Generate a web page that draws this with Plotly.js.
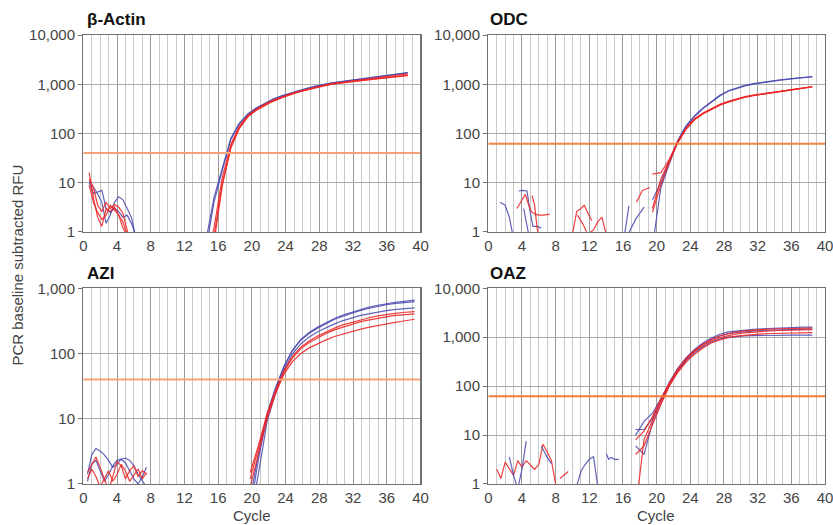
<!DOCTYPE html>
<html>
<head>
<meta charset="utf-8">
<script src="https://cdn.plot.ly/plotly-3.0.1.min.js"></script>
<style>html,body{margin:0;padding:0;background:#fff;}#chart{width:833px;height:525px;}</style>
</head>
<body>
<div id="chart"></div>
<script>
// ---------- shared ticks ----------
const xTickVals = [0,4,8,12,16,20,24,28,32,36,40];
const xTickText = ["0","4","8","12","16","20","24","28","32","36","40"];
const yTickVals = [1,10,100,1000,10000];
const yTickText = ["1","10","100","1,000","10,000"];
const panelTitles = ["β-Actin","ODC","AZI","OAZ"];
const thresholds = [40, 62, 40, 62];
const thresholdX = [0, 40];

// ---------- β-Actin ----------
const cycA = [14.5,15.5,16.5,17.5,18.5,19.5,20.5,21.5,22.5,23.5,24.5,25.5,26.5,27.5,28.5,29.5,30.5,31.5,32.5,33.5,34.5,35.5,36.5,37.5,38.5];
const A_blue1 = [0.4,4,18,75,155,240,320,400,490,570,650,730,810,900,980,1060,1120,1180,1240,1300,1370,1440,1510,1600,1700];
const A_blue2 = [0.6,5,20,80,160,250,330,410,500,580,660,740,830,920,1000,1070,1130,1190,1250,1310,1380,1450,1530,1620,1720];
const A_red1 = [0.1,0.8,10,55,130,220,300,380,460,540,620,700,780,860,940,1010,1070,1120,1180,1230,1290,1350,1410,1470,1530];
const A_red2 = [0.1,0.6,9,50,125,215,295,370,450,530,610,690,770,850,930,1000,1060,1110,1170,1220,1280,1330,1390,1440,1500];
const A_red3 = [0.2,1.2,13,60,140,230,310,390,470,550,630,710,790,870,950,1030,1090,1150,1210,1270,1330,1400,1470,1540,1620];
const nA_x = [0.7,1.2,1.7,2.2,2.7,3.2,3.7,4.2,4.7,5.2,5.7,6.2];
const nA_b1 = [11,8,6,4,1.5,2.2,4,5.2,4.5,3,2,0.8];
const nA_b2 = [10,6,6.5,7,3,2.5,3,2.6,2,2.2,1.5,0.9];
const nA_r1 = [16,5,2,1.3,3,2.6,3.2,2.2,1.2,0.8,0.6,0.5];
const nA_r2 = [12,8,3.5,2.6,4,3,3.6,3.2,2.4,1,0.5,0.4];
const nA_r3 = [9,4,2.5,1.8,2.2,3.5,2.8,2.2,1.6,0.9,0.5,0.4];

// ---------- ODC ----------
const cycB = [19.5,20.5,21.5,22.5,23.5,24.5,25.5,26.5,27.5,28.5,29.5,30.5,31.5,32.5,33.5,34.5,35.5,36.5,37.5,38.5];
const B_blue1 = [0.5,8,24,70,140,220,320,430,580,720,830,930,1010,1080,1140,1200,1260,1320,1370,1420];
const B_blue2 = [4.5,10,28,72,145,230,330,450,600,740,850,950,1030,1100,1160,1220,1280,1330,1380,1430];
const B_red1 = [3,12,28,68,130,200,260,320,390,450,510,560,600,640,680,720,760,800,850,900];
const B_red2 = [15,16,30,66,126,195,255,315,380,440,500,550,595,635,675,715,755,795,840,890];
const B_red3 = [2.5,9,26,64,122,190,250,310,375,435,495,545,590,630,670,710,750,790,835,880];
const nB_xb0 = [16.6,17.5,18.5];
const nB_b0 = [0.9,1.8,3.2];
const nB_xb1 = [1.4,2,2.5,2.8,3.1];
const nB_b1 = [4,3.5,2,1.1,0.6];
const nB_xb2 = [3.6,4.1,4.6,4.9,5.3,5.8,6.3];
const nB_b2 = [6.8,7,6.8,3,1.3,1.3,1.2];
const nB_xb3 = [4.2,4.5,4.8,5.1];
const nB_b3 = [3,1.5,0.9,0.6];
const nB_xb4 = [16.2,16.7];
const nB_b4 = [0.9,3.4];
const nB_xr1 = [3.4,3.9,4.4,4.8,5.2,5.6,6,6.6,7.3];
const nB_r1 = [3,4.2,5.8,3.5,2.5,2.3,2.2,2.2,2.3];
const nB_xr2 = [5.2,5.5,5.8,6.1];
const nB_r2 = [5.5,3.5,1.2,0.7];
const nB_xr3 = [10,10.5,11,11.4,11.8,12.3];
const nB_r3 = [0.9,2.6,3,3.5,2.5,1.7];
const nB_xr4 = [10.6,11.2,11.8,12.5,13,13.5,14];
const nB_r4 = [2.2,1.5,0.9,1.1,1.6,2,0.9];
const nB_xr5 = [17.6,18.3,19.2];
const nB_r5 = [4,7,8];

// ---------- AZI ----------
const cycC = [19.8,20.8,21.8,22.8,23.8,24.8,25.8,26.8,27.8,28.8,29.8,30.8,31.8,32.8,33.8,34.8,35.8,36.8,37.8,38.8,39.3];
const C_blue1 = [0.4,2.5,11,28,62,110,165,210,255,300,345,390,430,470,510,545,580,605,625,645,660];
const C_blue2 = [0.6,3,12,30,64,112,160,205,245,290,335,375,415,455,490,525,555,580,600,615,625];
const C_blue3 = [0.3,1.5,9,25,56,98,140,180,215,250,285,320,350,380,405,430,450,470,485,495,500];
const C_red1 = [1.5,4,12,27,55,90,125,155,185,215,245,275,300,325,350,375,395,410,425,435,440];
const C_red2 = [1.2,3.5,11,26,52,85,118,148,175,203,230,255,280,305,325,345,365,380,392,400,405];
const C_red3 = [0.9,3,10,24,48,75,100,122,142,162,182,200,218,235,252,268,283,298,312,325,335];
const nC_x = [0.5,1,1.5,2,2.5,3,3.5,4,4.5,5,5.5,6,6.5,7,7.5];
const nC_b1 = [1.4,2.8,3.5,3.2,2.8,2.3,1.8,2,2.4,2.5,2.3,1.9,1.4,1.1,0.9];
const nC_b2 = [1.1,2,2.3,1.6,1.1,1.4,1.9,2.3,2.4,2.1,1.6,1.2,1,1.3,1.8];
const nC_r1 = [1.5,2,2.6,1.8,1.2,0.8,1.3,2.2,1.9,1.2,1.6,1.9,1.3,1.6,1.4];
const nC_r2 = [1.2,1.7,1.3,0.9,1.2,1.6,1.1,1.4,2,1.6,1.1,1.4,1.7,1.2,1.5];

// ---------- OAZ ----------
const cycD = [17.5,18.5,19.5,20.5,21.5,22.5,23.5,24.5,25.5,26.5,27.5,28.5,29.5,30.5,31.5,32.5,33.5,34.5,35.5,36.5,37.5,38.5];
const D_blue1 = [13,13,22,50,120,230,380,560,760,960,1150,1280,1350,1400,1450,1490,1520,1550,1570,1590,1600,1610];
const D_blue2 = [6,4,18,45,105,200,330,480,640,800,920,1000,1040,1060,1080,1090,1100,1100,1100,1100,1100,1100];
const D_blue3 = [10,19,28,55,115,220,360,530,720,900,1060,1180,1260,1310,1350,1380,1400,1420,1430,1440,1450,1460];
const D_red1 = [0.3,8,20,50,110,210,350,510,680,840,980,1090,1170,1230,1280,1320,1350,1370,1390,1400,1410,1420];
const D_red2 = [8,12,24,55,115,220,370,540,730,910,1070,1190,1280,1350,1400,1440,1470,1490,1500,1510,1520,1530];
const D_red3 = [4,6,16,42,100,190,310,450,600,760,880,980,1050,1100,1140,1170,1190,1200,1210,1220,1230,1240];
const nD_xr1 = [1,1.5,2,2.5,3,3.5,4,4.5,5,5.5,6,6.5,7,7.5,8];
const nD_r1 = [2,1.3,2.8,2,1.5,3,2.2,3,2.5,2,2.5,6.5,4.5,3,1];
const nD_xr2 = [8.5,9,9.5];
const nD_r2 = [1.3,1.5,1.8];
const nD_xb1 = [2.5,3,3.5,4,4.5];
const nD_b1 = [3.6,1.5,0.8,2,7.5];
const nD_xb2 = [6.3,7,7.5];
const nD_b2 = [6,3.5,2.6];
const nD_xb3 = [10.5,11,11.5,12,12.5,13];
const nD_b3 = [0.9,1.8,2.5,3.2,3.6,0.9];
const nD_xb4 = [14,14.3,14.6,15,15.5];
const nD_b4 = [4.2,3.2,3.5,3.2,3.2];

// ---------- build ----------
const BLUE = 'rgba(70,70,175,0.85)';
const RED = 'rgba(238,35,35,0.88)';
const THR = ['#f6a279','#f08444','#f6a279','#f07c3a'];
const traces = [];
function add(xs, ys, color, n, w) {
  traces.push({type:'scatter', mode:'lines', x:xs, y:ys, xaxis:'x'+(n===1?'':n), yaxis:'y'+(n===1?'':n),
    line:{color:color, width:w||1.2}, hoverinfo:'skip', showlegend:false});
}
// panel 1
[A_blue1,A_blue2].forEach(s=>add(cycA,s,BLUE,1));
[A_red1,A_red2,A_red3].forEach(s=>add(cycA,s,RED,1));
[nA_b1,nA_b2].forEach(s=>add(nA_x,s,BLUE,1));
[nA_r1,nA_r2,nA_r3].forEach(s=>add(nA_x,s,RED,1));
// panel 2
[B_blue1,B_blue2].forEach(s=>add(cycB,s,BLUE,2));
[B_red1,B_red2,B_red3].forEach(s=>add(cycB,s,RED,2));
add(nB_xb0,nB_b0,BLUE,2); add(nB_xb1,nB_b1,BLUE,2); add(nB_xb2,nB_b2,BLUE,2); add(nB_xb3,nB_b3,BLUE,2); add(nB_xb4,nB_b4,BLUE,2);
add(nB_xr1,nB_r1,RED,2); add(nB_xr2,nB_r2,RED,2); add(nB_xr3,nB_r3,RED,2); add(nB_xr4,nB_r4,RED,2); add(nB_xr5,nB_r5,RED,2);
// panel 3
[C_blue1,C_blue2,C_blue3].forEach(s=>add(cycC,s,BLUE,3));
[C_red1,C_red2,C_red3].forEach(s=>add(cycC,s,RED,3));
[nC_b1,nC_b2].forEach(s=>add(nC_x,s,BLUE,3));
[nC_r1,nC_r2].forEach(s=>add(nC_x,s,RED,3));
// panel 4
[D_blue1,D_blue2,D_blue3].forEach(s=>add(cycD,s,BLUE,4));
[D_red1,D_red2,D_red3].forEach(s=>add(cycD,s,RED,4));
add(nD_xr1,nD_r1,RED,4); add(nD_xr2,nD_r2,RED,4);
add(nD_xb1,nD_b1,BLUE,4); add(nD_xb2,nD_b2,BLUE,4); add(nD_xb3,nD_b3,BLUE,4); add(nD_xb4,nD_b4,BLUE,4);
// thresholds
for (let i=0;i<4;i++) add(thresholdX,[thresholds[i],thresholds[i]],THR[i],i+1,2);

const FONT = '"Liberation Sans", Arial, sans-serif';
const tickFont = {family:FONT, size:15, color:'#444'};
function xax(dom, anchor) {
  return {domain:dom, anchor:anchor, range:[0,40], tickmode:'array', tickvals:xTickVals, ticktext:xTickText,
    showgrid:true, gridcolor:'#999999', gridwidth:1, zeroline:false,
    minor:{dtick:1, tick0:0, showgrid:true, gridcolor:'#c9c9c9', gridwidth:1},
    showline:true, linecolor:'#707070', linewidth:1.3, mirror:true, ticklabeloverflow:'allow',
    ticks:'', tickfont:tickFont};
}
function yax(dom, anchor, top) {
  return {domain:dom, anchor:anchor, type:'log', range:[0,top], tickmode:'array', tickvals:yTickVals, ticktext:yTickText,
    showgrid:true, gridcolor:'#adadad', gridwidth:1, zeroline:false,
    showline:true, linecolor:'#707070', linewidth:1.3, mirror:true, ticklabeloverflow:'allow',
    ticks:'outside', ticklen:4, tickcolor:'#707070', tickfont:tickFont};
}
const XL = [0.1000, 0.5048], XR = [0.5862, 0.9904];
const YT = [0.5581, 0.9333], YB = [0.0781, 0.4509];
const titleFont = {family:FONT, size:17, color:'#111', weight:'bold'};
const labFont = {family:FONT, size:15, color:'#444'};
const layout = {
  width:833, height:525, margin:{l:0,r:0,t:0,b:0}, paper_bgcolor:'#fff', plot_bgcolor:'#fff',
  showlegend:false,
  xaxis:xax(XL,'y'), yaxis:yax(YT,'x',4),
  xaxis2:xax(XR,'y2'), yaxis2:yax(YT,'x2',4),
  xaxis3:xax(XL,'y3'), yaxis3:yax(YB,'x3',3),
  xaxis4:xax(XR,'y4'), yaxis4:yax(YB,'x4',4),
  annotations:[
    {text:'<b>'+panelTitles[0]+'</b>', xref:'paper', yref:'paper', x:0.1015, y:0.962, xanchor:'left', yanchor:'middle', showarrow:false, font:titleFont},
    {text:'<b>'+panelTitles[1]+'</b>', xref:'paper', yref:'paper', x:0.5862, y:0.962, xanchor:'left', yanchor:'middle', showarrow:false, font:titleFont},
    {text:'<b>'+panelTitles[2]+'</b>', xref:'paper', yref:'paper', x:0.1015, y:0.480, xanchor:'left', yanchor:'middle', showarrow:false, font:titleFont},
    {text:'<b>'+panelTitles[3]+'</b>', xref:'paper', yref:'paper', x:0.5862, y:0.480, xanchor:'left', yanchor:'middle', showarrow:false, font:titleFont},
    {text:'Cycle', xref:'paper', yref:'paper', x:0.302, y:0, xanchor:'center', yanchor:'bottom', borderpad:0, showarrow:false, font:labFont},
    {text:'Cycle', xref:'paper', yref:'paper', x:0.788, y:0, xanchor:'center', yanchor:'bottom', borderpad:0, showarrow:false, font:labFont},
    {text:'PCR baseline subtracted RFU', xref:'paper', yref:'paper', x:0.021, y:0.495, xanchor:'center', yanchor:'middle', textangle:-90, showarrow:false, font:labFont}
  ]
};
Plotly.newPlot('chart', traces, layout, {staticPlot:true, displayModeBar:false});
</script>
</body>
</html>
